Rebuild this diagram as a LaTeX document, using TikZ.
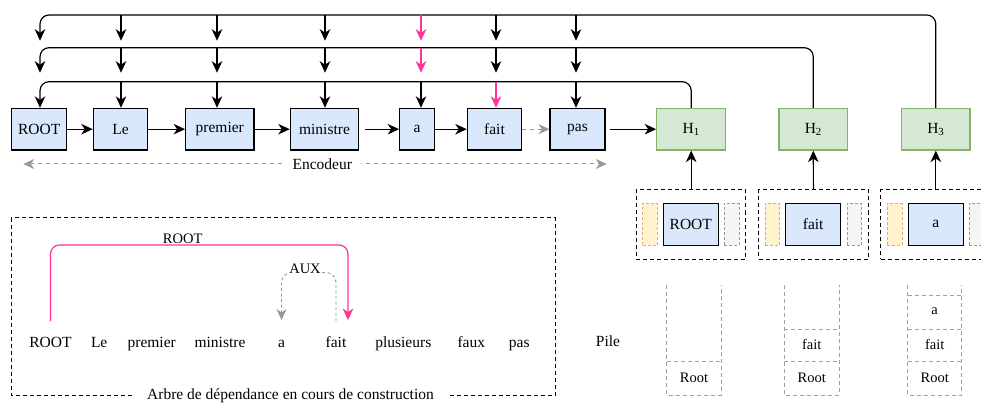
\documentclass[tikz,border=0pt]{standalone}
\usepackage{fontspec}
\setmainfont{Liberation Serif}
\usetikzlibrary{arrows.meta,calc}
\definecolor{blueF}{HTML}{DAE8FC}
\definecolor{greenF}{HTML}{D5E8D4}
\definecolor{greenD}{HTML}{82B366}
\definecolor{yelF}{HTML}{FFF2CC}
\definecolor{yelD}{HTML}{D6B656}
\definecolor{greyF}{HTML}{F5F5F5}
\definecolor{greyD}{HTML}{999999}
\definecolor{pinkC}{HTML}{FF3399}
\definecolor{stkC}{HTML}{A0A0A0}
\newcommand\fsM{\rmfamily\fontsize{15.5}{18}\selectfont}
\newcommand\fsS{\rmfamily\fontsize{14.5}{17}\selectfont}
\begin{document}
\begin{tikzpicture}[x=1pt,y=-1pt,
  wbox/.style={draw=black, fill=blueF, line width=1.1pt, minimum height=41.7pt, inner sep=0pt, font=\fsM},
  hbox/.style={draw=greenD, fill=greenF, line width=1.1pt, minimum height=41.7pt, inner sep=0pt, font=\fsM},
  ybox/.style={draw=yelD, fill=yelF, line width=0.9pt, dash pattern=on 3pt off 2pt, minimum width=14.6pt, minimum height=41.7pt, inner sep=0pt},
  gbox/.style={draw=greyD, fill=greyF, line width=0.9pt, dash pattern=on 3pt off 2pt, minimum width=14.7pt, minimum height=41.7pt, inner sep=0pt},
  cont/.style={draw=black, line width=1pt, dash pattern=on 4pt off 3pt, minimum width=109.5pt, minimum height=69pt, inner sep=0pt},
  arr/.style={draw=black, line width=1.2pt, -{Stealth[length=11.5pt,width=10.5pt,inset=3.5pt]}},
  parr/.style={draw=pinkC, line width=1.2pt, -{Stealth[length=11.5pt,width=10.5pt,inset=3.5pt]}},
  garr/.style={draw=greyD, line width=1pt, dash pattern=on 4pt off 4pt, -{Stealth[length=11pt,width=10pt,inset=3.5pt]}},
  word/.style={font=\fsM, inner sep=0pt, text height=11pt, text depth=3pt},
  stk/.style={draw=stkC, line width=0.8pt, dash pattern=on 4pt off 3pt},
  lbl/.style={font=\fsS, fill=white, inner sep=1pt}
]
\useasboundingbox (0,0) rectangle (981,403);

% encoder boxes
\node[wbox, minimum width=55pt]   (root) at (39.2,129.2) {ROOT};
\node[wbox, minimum width=54.4pt] (le)   at (120.5,129.2) {Le};
\node[wbox, minimum width=68.3pt] (pr)   at (219.8,129.2) {premier};
\node[wbox, minimum width=68.4pt] (mi)   at (324.5,129.2) {ministre};
\node[wbox, minimum width=34.6pt] (aa)   at (417,129.2) {a};
\node[wbox, minimum width=54.4pt] (fa)   at (494.5,129.2) {fait};
\node[wbox, minimum width=55pt]   (pa)   at (577.5,129.2) {pas};
\node[hbox, minimum width=69pt]   (h1)   at (691.2,129.2) {H\textsubscript{1}};
\node[hbox, minimum width=68.7pt] (h2)   at (813.3,129.2) {H\textsubscript{2}};
\node[hbox, minimum width=68.3pt] (h3)   at (935.8,129.2) {H\textsubscript{3}};

\draw[arr] (root) -- (le);
\draw[arr] (le) -- (pr);
\draw[arr] (pr) -- (mi);
\draw[arr, shorten <=6pt] (mi) -- (aa);
\draw[arr] (aa) -- (fa);
\draw[garr] (fa) -- (pa);
\draw[arr, shorten <=4pt] (pa) -- (h1);

% column coordinates
\coordinate (c-root) at (40,0);
\coordinate (c-le) at (121,0);
\coordinate (c-pr) at (217,0);
\coordinate (c-mi) at (325,0);
\coordinate (c-aa) at (421,0);
\coordinate (c-fa) at (496,0);
\coordinate (c-pa) at (576,0);
\coordinate (L1) at (0,15);
\coordinate (T1) at (0,40.7);
\coordinate (L2) at (0,47.7);
\coordinate (T2) at (0,72.7);
\coordinate (L3) at (0,81.7);

% bus from H3
\draw[arr, rounded corners=9pt] (h3.north) |- (c-root |- L1) -- (c-root |- T1);
\foreach \c in {le,pr,mi,fa,pa} \draw[arr] (c-\c |- L1) -- (c-\c |- T1);
\draw[parr] (c-aa |- L1) -- (c-aa |- T1);
% bus from H2
\draw[arr, rounded corners=9pt] (h2.north) |- (c-root |- L2) -- (c-root |- T2);
\foreach \c in {le,pr,mi,fa,pa} \draw[arr] (c-\c |- L2) -- (c-\c |- T2);
\draw[parr] (c-aa |- L2) -- (c-aa |- T2);
% bus from H1
\draw[arr, rounded corners=9pt] (h1.north) |- (c-root |- L3) -- (c-root |- root.north);
\foreach \c in {le,pr,mi,aa,pa} \draw[arr] (c-\c |- L3) -- (c-\c |- root.north);
\draw[parr] (c-fa |- L3) -- (c-fa |- root.north);

% encoder arrow
\coordinate (encL) at (23.3,164);
\coordinate (encR) at (606.7,164);
\draw[garr, {Stealth[length=11pt,width=10pt,inset=3.5pt]}-{Stealth[length=11pt,width=10pt,inset=3.5pt]}] (encL) -- (encR);
\node[font=\fsM, fill=white, inner xsep=9pt, inner ysep=1pt] (enc) at (322.3,164) {Encodeur};

% configuration containers
\node[cont] (s1) at (691.2,224.5) {};
\node[cont] (s2) at (813.4,224.5) {};
\node[cont, minimum width=110pt] (s3) at (935.8,224.5) {};
\node[ybox] (y1) at (650,224.2) {};
\node[wbox, minimum width=55pt] (b1) at (690.8,224.2) {ROOT};
\node[gbox] (g1) at (731.7,224.2) {};
\node[ybox] (y2) at (772.5,224.2) {};
\node[wbox, minimum width=55pt] (b2) at (813.2,224.2) {fait};
\node[gbox] (g2) at (854.3,224.2) {};
\node[ybox] (y3) at (894.7,224.2) {};
\node[wbox, minimum width=54.7pt] (b3) at (935.7,224.2) {a};
\node[gbox] (g3) at (976.7,224.2) {};
\draw[arr] (s1.north) -- (h1.south);
\draw[arr] (s2.north) -- (h2.south);
\draw[arr] (s3.north) -- (h3.south);

% dependency tree
\draw[draw=black, line width=1pt, dash pattern=on 4pt off 3pt] (11,217.7) rectangle (555.3,395);
\node[font=\fsM, fill=white, inner xsep=14pt, inner ysep=1pt] (tree) at (290.5,396) {Arbre de dépendance en cours de construction};
\node[word] (wroot) at (50.5,343.3) {ROOT};
\node[word] (wle) at (99.2,343.3) {Le};
\node[word] (wpr) at (151.7,343.3) {premier};
\node[word] (wmi) at (220,343.3) {ministre};
\node[word] (wa) at (281.5,343.3) {a};
\node[word] (wfa) at (336,343.3) {fait};
\node[word] (wpl) at (403.3,343.3) {plusieurs};
\node[word] (wfx) at (471.3,343.3) {faux};
\node[word] (wpa) at (519.2,343.3) {pas};

\coordinate (rtop) at (200,245);
\draw[parr, rounded corners=9pt] ([yshift=15pt]wroot.north) |- (rtop) -| ([xshift=12pt,yshift=16pt]wfa.north);
\node[lbl] (rlab) at (182.7,238.3) {ROOT};
\coordinate (atop) at (305,272.5);
\draw[garr, dash pattern=on 3pt off 2.5pt, line width=0.9pt, rounded corners=10pt] ([yshift=15pt]wfa.north) |- (atop) -| ([yshift=16pt]wa.north);
\node[lbl] (alab) at (305,268.3) {AUX};

\node[font=\fsM] (pile) at (608,341) {Pile};

% stacks
\draw[stk] (666.7,285) -- (666.7,395) -- (721,395) -- (721,285);
\draw[stk] (666.7,361) -- (721,361);
\node[font=\fsS] (k1r) at (694,378.3) {Root};

\draw[stk] (784.3,285) -- (784.3,395) -- (839.3,395) -- (839.3,285);
\draw[stk] (784.3,361) -- (839.3,361);
\draw[stk] (784.3,329.3) -- (839.3,329.3);
\node[font=\fsS] (k2r) at (811.8,378.3) {Root};
\node[font=\fsS] (k2f) at (811.8,344.3) {fait};

\draw[stk] (907.7,285) -- (907.7,395) -- (961.7,395) -- (961.7,285);
\draw[stk] (907.7,361) -- (961.7,361);
\draw[stk] (907.7,329.3) -- (961.7,329.3);
\draw[stk] (907.7,295.7) -- (961.7,295.7);
\node[font=\fsS] (k3r) at (934.7,378.3) {Root};
\node[font=\fsS] (k3f) at (934.7,344.3) {fait};
\node[font=\fsS] (k3a) at (934.7,311.5) {a};
\end{tikzpicture}
\end{document}
